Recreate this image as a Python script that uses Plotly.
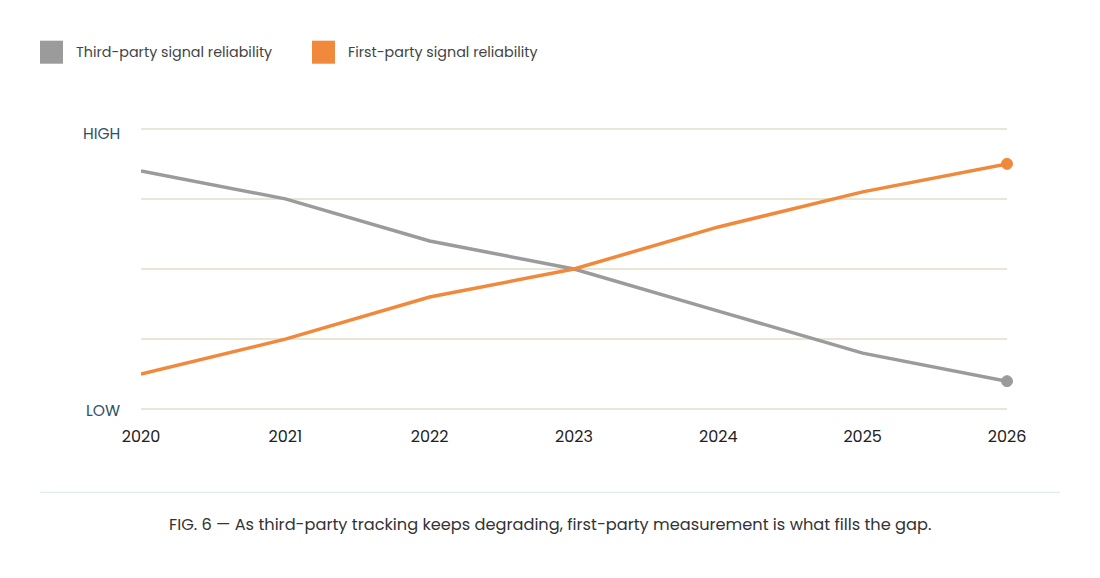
import plotly.graph_objects as go

years = [2020, 2021, 2022, 2023, 2024, 2025, 2026]
third_party = [85, 75, 60, 50, 35, 20, 10]
first_party = [12.5, 25, 40, 50, 65, 77.5, 87.5]
y_tickvals = [0, 25, 50, 75, 100]
y_ticktext = ["LOW", "", "", "", "HIGH"]
series_names = ["Third-party signal reliability", "First-party signal reliability"]
caption = "FIG. 6 — As third-party tracking keeps degrading, first-party measurement is what fills the gap."

GRAY = "#9b9b9b"
ORANGE = "#f0893b"
FONT = "Poppins, Inter, sans-serif"

fig = go.Figure()
for vals, color in [(third_party, GRAY), (first_party, ORANGE)]:
    fig.add_trace(go.Scatter(
        x=years, y=vals, mode="lines",
        line=dict(color=color, width=3.5),
        showlegend=False, hoverinfo="skip", cliponaxis=False,
    ))
    fig.add_trace(go.Scatter(
        x=years[-1:], y=vals[-1:], mode="markers",
        marker=dict(color=color, size=11, opacity=1,
                    line=dict(color=color, width=1)),
        showlegend=False, hoverinfo="skip", cliponaxis=False,
    ))

W, H = 1100, 578
PX0, PX1, PY0, PY1 = 141, 1007, 126.2, 411.8


def px(x):
    return (x - PX0) / (PX1 - PX0)


def py(y):
    return (PY1 - y) / (PY1 - PY0)


shapes = []
annotations = []
legend_x = [40, 312]
for i, (name, color) in enumerate(zip(series_names, [GRAY, ORANGE])):
    x0 = legend_x[i]
    shapes.append(dict(type="rect", xref="paper", yref="paper",
                       x0=px(x0), x1=px(x0 + 23), y0=py(64), y1=py(41),
                       fillcolor=color, line=dict(width=0)))
    annotations.append(dict(text=name, xref="paper", yref="paper",
                            x=px(x0 + 34), y=py(52.5),
                            xanchor="left", yanchor="middle", showarrow=False,
                            font=dict(family=FONT, size=14.3, color="#444444")))
yshifts = {"LOW": -1, "HIGH": -5}
for v, t in zip(y_tickvals, y_ticktext):
    if t:
        annotations.append(dict(text=t, xref="paper", yref="y", x=px(122), y=v,
                                yshift=yshifts[t], xanchor="right", yanchor="middle",
                                showarrow=False,
                                font=dict(family=FONT, size=15.5, color="#2e5266")))
shapes.append(dict(type="line", xref="paper", yref="paper",
                   x0=px(40), x1=px(1060), y0=py(492), y1=py(492),
                   line=dict(color="#d6e7eb", width=1)))
annotations.append(dict(text=caption, xref="paper", yref="paper",
                        x=px(550), y=py(524),
                        xanchor="center", yanchor="middle", showarrow=False,
                        font=dict(family=FONT, size=16.2, color="#333333")))

fig.update_layout(
    width=W, height=H,
    margin=dict(l=141, r=93, t=126.2, b=166.2),
    paper_bgcolor="white", plot_bgcolor="white",
    font=dict(family=FONT),
    shapes=shapes, annotations=annotations,
    xaxis=dict(range=[2020, 2026], tickvals=years, showgrid=False, zeroline=False,
               showline=False, ticks="", tickfont=dict(size=16, color="#222222"),
               ticklabelstandoff=13),
    yaxis=dict(range=[-1, 101], tickvals=y_tickvals, ticktext=[""] * 5,
               showgrid=True, gridcolor="#e9e6d5", gridwidth=1.5, zeroline=False,
               showline=False, ticks="", showticklabels=True),
)
fig.write_html("out.html")
